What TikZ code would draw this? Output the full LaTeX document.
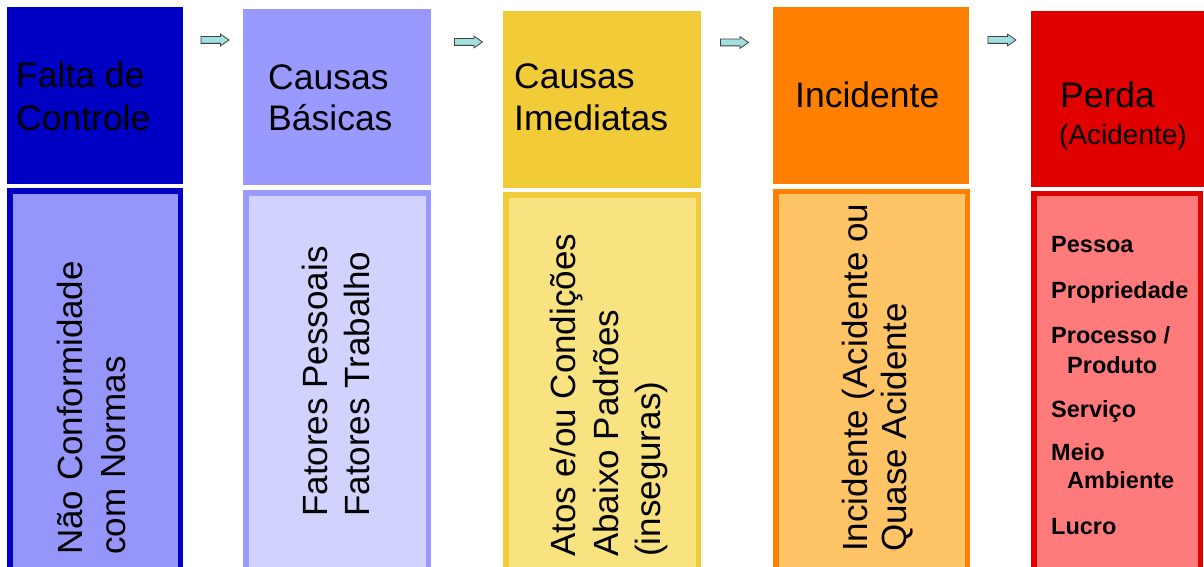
\documentclass[tikz,border=0pt]{standalone}
\usepackage{fontspec}
\setmainfont{Liberation Sans}
\usetikzlibrary{shapes.arrows}
\definecolor{cAtop}{RGB}{0,0,196}
\definecolor{cAin}{RGB}{150,150,250}
\definecolor{cBtop}{RGB}{153,153,255}
\definecolor{cBin}{RGB}{210,210,255}
\definecolor{cCtop}{RGB}{242,204,56}
\definecolor{cCin}{RGB}{249,226,128}
\definecolor{cDtop}{RGB}{255,128,0}
\definecolor{cDin}{RGB}{255,196,102}
\definecolor{cEtop}{RGB}{224,0,0}
\definecolor{cEin}{RGB}{255,122,122}
\definecolor{arrfill}{RGB}{160,224,224}
\tikzset{
  topbox/.style={rectangle, draw=none, inner sep=0pt, outer sep=0pt, anchor=north west},
  botbox/.style={rectangle, line width=5.5pt, inner sep=0pt, outer sep=0pt, anchor=north west, minimum height=420pt},
  title/.style={inner sep=0pt, anchor=base west, font=\fontsize{35.5}{42}\selectfont},
  sub/.style={inner sep=0pt, anchor=base west, font=\fontsize{28}{32}\selectfont},
  rot/.style={inner sep=0pt, anchor=base west, rotate=90, font=\fontsize{35}{42}\selectfont},
  item/.style={inner sep=0pt, anchor=base west, font=\fontsize{23.5}{28}\selectfont\bfseries},
  blockarrow/.style={shape=single arrow, draw=black!75, line width=0.8pt, fill=arrfill,
    minimum height=28pt, minimum width=11pt, single arrow head extend=2.5pt,
    single arrow tip angle=70, inner xsep=0pt, inner ysep=3pt}
}
\begin{document}
\begin{tikzpicture}[x=1pt,y=-1pt]
\useasboundingbox (0,0) rectangle (1204,567);
\clip (0,0) rectangle (1204,567);
% top boxes
\node[topbox, fill=cAtop, minimum width=176pt, minimum height=177pt] (t1) at (7,7) {};
\node[topbox, fill=cBtop, minimum width=188pt, minimum height=176pt] (t2) at (243,9) {};
\node[topbox, fill=cCtop, minimum width=198pt, minimum height=177pt] (t3) at (503,11) {};
\node[topbox, fill=cDtop, minimum width=196pt, minimum height=177pt] (t4) at (773,7) {};
\node[topbox, fill=cEtop, minimum width=190pt, minimum height=176pt] (t5) at (1031,11) {};
% bottom boxes (positions of the border path, inset by half the line width)
\node[botbox, draw=cAtop, fill=cAin, minimum width=170.5pt] (b1) at (9.75,190.75) {};
\node[botbox, draw=cBtop, fill=cBin, minimum width=182.5pt] (b2) at (245.75,192.75) {};
\node[botbox, draw=cCtop, fill=cCin, minimum width=192.5pt] (b3) at (505.75,194.75) {};
\node[botbox, draw=cDtop, fill=cDin, minimum width=191.5pt] (b4) at (775.75,191.25) {};
\node[botbox, draw=cEtop, fill=cEin, minimum width=166.5pt] (b5) at (1033.75,193.25) {};
% arrows
\node[blockarrow] (a1) at (212.5,40) {};
\node[blockarrow] (a2) at (466,42) {};
\node[blockarrow] (a3) at (732,42.5) {};
\node[blockarrow] (a4) at (999.5,40) {};
% titles
\node[title] (t1a) at (16,88) {Falta de};
\node[title] (t1b) at (16,131) {Controle};
\node[title] (t2a) at (268,90) {Causas};
\node[title] (t2b) at (268,131) {Básicas};
\node[title] (t3a) at (514,89) {Causas};
\node[title] (t3b) at (514,131) {Imediatas};
\node[title] (t4a) at (795,108) {Incidente};
\node[title] (t5a) at (1060,108) {Perda};
\node[sub] (t5b) at (1059,145) {(Acidente)};
% rotated texts
\node[rot] (r1a) at (82,555) {Não Conformidade};
\node[rot] (r1b) at (125,555) {com Normas};
\node[rot] (r2a) at (327,517) {Fatores Pessoais};
\node[rot] (r2b) at (369,517) {Fatores Trabalho};
\node[rot] (r3a) at (575,557) {Atos e/ou Condições};
\node[rot] (r3b) at (618,557) {Abaixo Padrões};
\node[rot] (r3c) at (660,557) {(inseguras)};
\node[rot] (r4a) at (867,552) {Incidente (Acidente ou};
\node[rot] (r4b) at (906,552) {Quase Acidente};
% list
\node[item] (l1) at (1051,252.5) {Pessoa};
\node[item] (l2) at (1051,298) {Propriedade};
\node[item] (l3) at (1051,343) {Processo /};
\node[item] (l4) at (1067,373) {Produto};
\node[item] (l5) at (1051,417) {Serviço};
\node[item] (l6) at (1051,460) {Meio};
\node[item] (l7) at (1067,488) {Ambiente};
\node[item] (l8) at (1051,534) {Lucro};
\end{tikzpicture}
\end{document}
